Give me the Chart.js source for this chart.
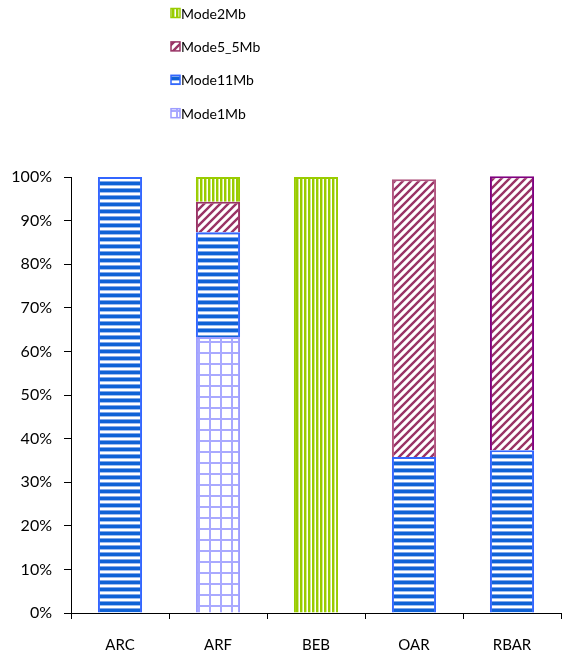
<!DOCTYPE html>
<html>
<head>
<meta charset="utf-8">
<script src="https://cdn.jsdelivr.net/npm/chart.js@4/dist/chart.umd.min.js"></script>
<style>
  html, body { margin: 0; padding: 0; background: #fff; }
  #wrap { width: 562px; height: 658px; position: relative; }
</style>
</head>
<body>
<div id="wrap"><canvas id="c" width="562" height="658"></canvas></div>
<script>
// Categories and per-mode shares (percent of each category)
const categories = ['ARC', 'ARF', 'BEB', 'OAR', 'RBAR'];
const mode1Mb   = [0,   63.3, 0,   0,    0];
const mode11Mb  = [100, 24.0, 0,   35.8, 37.3];
const mode5_5Mb = [0,   7.0,  0,   63.7, 62.9];
const mode2Mb   = [0,   5.7,  100, 0,    0];
const yTicks = [0, 10, 20, 30, 40, 50, 60, 70, 80, 90, 100];

const FONT = 'Lato, "Open Sans", sans-serif';

function tile(w, h, paint) {
  const c = document.createElement('canvas');
  c.width = w; c.height = h;
  const g = c.getContext('2d');
  g.fillStyle = '#fff';
  g.fillRect(0, 0, w, h);
  paint(g, w, h);
  return document.getElementById('c').getContext('2d').createPattern(c, 'repeat');
}

// horizontal blue stripes
const patH = tile(7, 7, (g) => {
  g.fillStyle = '#0f62d6'; g.fillRect(0, 0, 7, 3);
  g.fillStyle = '#9fbdf0'; g.fillRect(0, 3, 7, 1);
  g.fillStyle = '#7fa6ea'; g.fillRect(0, 6, 7, 1);
});
// vertical green stripes
const patV = tile(4, 4, (g) => {
  g.fillStyle = '#99cc00'; g.fillRect(0, 0, 2, 4);
  g.fillStyle = '#d2e98c'; g.fillRect(2, 0, 1, 4);
});
// diagonal maroon hatch
const patD = tile(8, 8, (g) => {
  g.strokeStyle = '#993366';
  g.lineWidth = 2.4;
  g.beginPath();
  g.moveTo(-2, 10); g.lineTo(10, -2);
  g.moveTo(-6, 6); g.lineTo(6, -6);
  g.moveTo(2, 14); g.lineTo(14, 2);
  g.stroke();
});
// light purple grid
const patG = tile(11, 11, (g) => {
  g.fillStyle = '#a9a9ff';
  g.fillRect(0, 0, 11, 2);
  g.fillRect(0, 0, 2, 11);
});

const datasets = [
  { label: 'Mode1Mb',   data: mode1Mb,   backgroundColor: patG, borderColor: '#9d9dff', borderWidth: 2 },
  { label: 'Mode11Mb',  data: mode11Mb,  backgroundColor: patH, borderColor: '#3366ff', borderWidth: 2 },
  { label: 'Mode5_5Mb', data: mode5_5Mb, backgroundColor: patD,
    borderColor: ['#993366', '#993366', '#993366', '#b0557f', '#800080'], borderWidth: 2 },
  { label: 'Mode2Mb',   data: mode2Mb,   backgroundColor: patV, borderColor: '#99cc00', borderWidth: 2 }
];

// Stacked legend above the plot, top series first
const sideLegend = {
  id: 'sideLegend',
  afterDraw(chart) {
    const ctx = chart.ctx;
    const ds = chart.data.datasets.slice().reverse();
    ctx.save();
    ctx.font = '14px ' + FONT;
    ctx.textBaseline = 'middle';
    ctx.textAlign = 'left';
    ds.forEach((d, i) => {
      const cy = 13 + i * 33.4;
      const x = 171, s = 9;
      ctx.fillStyle = d.backgroundColor;
      ctx.fillRect(x, cy - s / 2, s, s);
      ctx.strokeStyle = Array.isArray(d.borderColor) ? d.borderColor[0] : d.borderColor;
      ctx.lineWidth = 1.5;
      ctx.strokeRect(x, cy - s / 2, s, s);
      ctx.fillStyle = '#000';
      ctx.fillText(d.label, 181, cy + 1);
    });
    ctx.restore();
  }
};

new Chart(document.getElementById('c'), {
  type: 'bar',
  data: { labels: categories, datasets },
  plugins: [sideLegend],
  options: {
    responsive: false,
    animation: false,
    devicePixelRatio: 1,
    layout: { padding: { top: 177, right: 1, left: 0, bottom: 0 } },
    plugins: { legend: { display: false }, tooltip: { enabled: false } },
    datasets: { bar: { categoryPercentage: 1, barPercentage: 0.45, clip: false } },
    scales: {
      x: {
        stacked: true,
        offset: true,
        grid: { display: true, offset: true, drawOnChartArea: false, tickLength: 6, color: '#000' },
        border: { display: true, color: '#000', width: 1 },
        ticks: { color: '#000', font: { size: 15, family: FONT }, padding: 17 },
        afterFit(s) { s.height = 45; }
      },
      y: {
        stacked: true,
        min: 0,
        max: 100,
        afterBuildTicks(s) { s.ticks = yTicks.map(v => ({ value: v })); },
        grid: { display: true, drawOnChartArea: false, tickLength: 7, color: '#000' },
        border: { display: true, color: '#000', width: 1 },
        ticks: { color: '#000', font: { size: 16, family: FONT }, padding: 12,
                 callback: (v) => v + '%' },
        afterFit(s) { s.width = 71; }
      }
    }
  }
});
</script>
</body>
</html>
